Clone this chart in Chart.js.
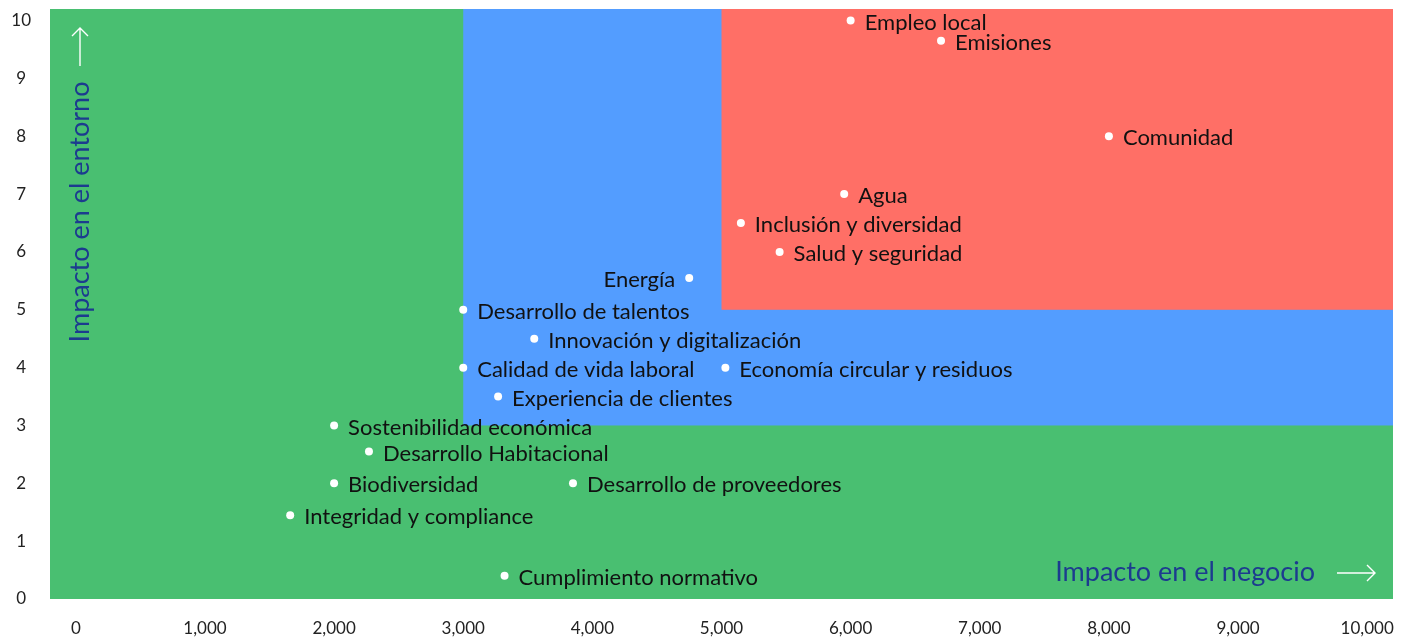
<!DOCTYPE html>
<html lang="es">
<head>
<meta charset="utf-8">
<title>Matriz de materialidad</title>
<script src="https://cdn.jsdelivr.net/npm/chart.js@4.4.1/dist/chart.umd.min.js"></script>
<style>
    html, body { margin: 0; padding: 0; background: #fff; }
</style>
</head>
<body>
<canvas id="matrixChart" width="1405" height="641"></canvas>
<script>
// Temas materiales: impacto en el negocio (x) e impacto en el entorno (y)
const temas = [
    'Empleo local', 'Emisiones', 'Comunidad', 'Agua', 'Inclusión y diversidad',
    'Salud y seguridad', 'Energía', 'Desarrollo de talentos', 'Innovación y digitalización',
    'Calidad de vida laboral', 'Economía circular y residuos', 'Experiencia de clientes',
    'Sostenibilidad económica', 'Desarrollo Habitacional', 'Biodiversidad',
    'Desarrollo de proveedores', 'Integridad y compliance', 'Cumplimiento normativo'
];
const impactoNegocio = [6000, 6700, 8000, 5950, 5150, 5450, 4750, 3000, 3550, 3000, 5030, 3270, 2000, 2270, 2000, 3850, 1660, 3320];
const impactoEntorno = [10, 9.65, 8, 7, 6.5, 6, 5.55, 5, 4.5, 4, 4, 3.5, 3, 2.55, 2, 2, 1.45, 0.4];
// etiqueta a la izquierda del punto
const etiquetaIzquierda = ['Energía'];

// zonas de la matriz (umbral inferior en x e y)
const zonas = ['baja', 'media', 'alta'];
const zonaDesdeX = [-200, 3000, 5000];
const zonaDesdeY = [0, 3, 5];
const coloresZona = ['#49bf71', '#539dff', '#ff6f66'];

const ticksX = [0, 1000, 2000, 3000, 4000, 5000, 6000, 7000, 8000, 9000, 10000];
const ticksY = [0, 1, 2, 3, 4, 5, 6, 7, 8, 9, 10];

const tituloX = 'Impacto en el negocio';
const tituloY = 'Impacto en el entorno';

const FONT = 'Lato, "Open Sans", sans-serif';

const zonasPlugin = {
    id: 'zonas',
    beforeDatasetsDraw(chart) {
        const { ctx, chartArea: a, scales: { x, y } } = chart;
        ctx.save();
        zonas.forEach((z, i) => {
            const left = Math.max(a.left, x.getPixelForValue(zonaDesdeX[i]));
            const bottom = Math.min(a.bottom, y.getPixelForValue(zonaDesdeY[i]));
            ctx.fillStyle = coloresZona[i];
            ctx.fillRect(left, a.top, a.right - left, bottom - a.top);
        });
        ctx.restore();
    }
};

const etiquetasPlugin = {
    id: 'etiquetas',
    afterDatasetsDraw(chart) {
        const { ctx, chartArea: a } = chart;
        const meta = chart.getDatasetMeta(0);
        ctx.save();
        ctx.font = '22px ' + FONT;
        ctx.fillStyle = '#111';
        ctx.textBaseline = 'middle';
        meta.data.forEach((pt, i) => {
            const izq = etiquetaIzquierda.includes(temas[i]);
            ctx.textAlign = izq ? 'right' : 'left';
            ctx.fillText(temas[i], pt.x + (izq ? -14 : 14), pt.y + 2);
        });

        // títulos de ejes dentro del área
        ctx.fillStyle = '#1c3b8f';
        ctx.font = '27px ' + FONT;
        ctx.textAlign = 'right';
        ctx.fillText(tituloX, a.right - 78, a.bottom - 27);

        ctx.save();
        ctx.translate(a.left + 30, a.top + 203);
        ctx.rotate(-Math.PI / 2);
        ctx.textAlign = 'center';
        ctx.fillText(tituloY, 0, 0);
        ctx.restore();

        // flechas blancas
        ctx.strokeStyle = '#fff';
        ctx.lineWidth = 1.4;
        ctx.beginPath();
        const ay = a.bottom - 26;
        ctx.moveTo(a.right - 56, ay); ctx.lineTo(a.right - 18, ay);
        ctx.moveTo(a.right - 26, ay - 8); ctx.lineTo(a.right - 18, ay); ctx.lineTo(a.right - 26, ay + 8);
        const ax = a.left + 30;
        ctx.moveTo(ax, a.top + 57); ctx.lineTo(ax, a.top + 19);
        ctx.moveTo(ax - 8, a.top + 27); ctx.lineTo(ax, a.top + 19); ctx.lineTo(ax + 8, a.top + 27);
        ctx.stroke();
        ctx.restore();
    }
};

const ctx = document.getElementById('matrixChart');
new Chart(ctx, {
    type: 'scatter',
    data: {
        datasets: [{
            label: 'Temas',
            data: temas.map((t, i) => ({ x: impactoNegocio[i], y: impactoEntorno[i] })),
            backgroundColor: '#fff',
            borderWidth: 0,
            pointRadius: 4,
            pointHoverRadius: 4
        }]
    },
    options: {
        responsive: false,
        animation: false,
        layout: { padding: { top: 9, right: 12, left: 0, bottom: 0 } },
        plugins: { legend: { display: false }, tooltip: { enabled: false } },
        scales: {
            x: {
                type: 'linear',
                min: -200,
                max: 10200,
                border: { display: false },
                grid: { display: false, drawTicks: false },
                afterBuildTicks: s => { s.ticks = ticksX.map(v => ({ value: v })); },
                afterFit: s => {
                    s.height = 42;
                    s.paddingLeft = 0; s.paddingRight = 0;
                },
                ticks: {
                    padding: 19,
                    autoSkip: false,
                    maxRotation: 0,
                    color: '#222',
                    font: { family: FONT, size: 17 },
                    callback: v => v.toLocaleString('en-US')
                }
            },
            y: {
                type: 'linear',
                min: 0,
                max: 10.2,
                border: { display: false },
                grid: { display: false, drawTicks: false },
                afterBuildTicks: s => { s.ticks = ticksY.map(v => ({ value: v })); },
                afterFit: s => {
                    s.width = 50;
                    s.paddingTop = 0; s.paddingBottom = 0;
                },
                ticks: {
                    padding: 19,
                    autoSkip: false,
                    crossAlign: 'center',
                    color: '#222',
                    font: { family: FONT, size: 17 }
                }
            }
        }
    },
    plugins: [zonasPlugin, etiquetasPlugin]
});
</script>
</body>
</html>
